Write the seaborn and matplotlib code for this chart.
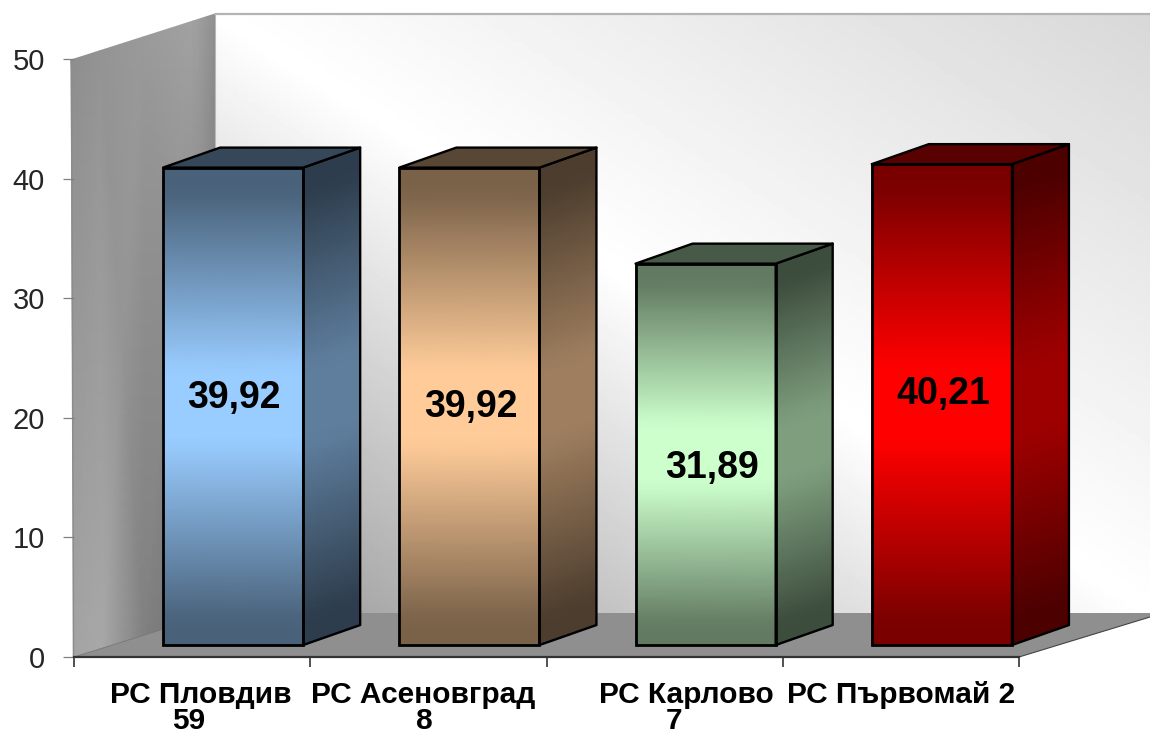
import numpy as np
import pandas as pd
import matplotlib
matplotlib.use("Agg")
import matplotlib.pyplot as plt
from matplotlib.colors import LinearSegmentedColormap, to_rgb
from matplotlib.patches import Polygon
import seaborn as sns

categories = ["РС Пловдив", "РС Асеновград", "РС Карлово", "РС Първомай 2"]
second_lines = ["59", "8", "7"]
values = [39.92, 39.92, 31.89, 40.21]
yticks = [0, 10, 20, 30, 40, 50]

# styling
colors = ["#99ccff", "#ffcc99", "#ccffcc", "#ff0000"]
label_centers = [0.035, 0.976, 2.094, 3.0]
second_line_centers = [-0.013, 0.981, 2.04]
value_label_y = [21.63, 20.9, 15.8, 21.99]
value_label_dx = [1, 1, 6, 1]
W, H = 1150, 733
AX_L, AX_R, AX_T, AX_B = 74, 1019, 59, 657

sns.set_theme(style="white")
plt.rcParams["font.family"] = ["Liberation Sans", "DejaVu Sans"]

fig = plt.figure(figsize=(W / 100, H / 100), dpi=100, facecolor="white")

# ---- background walls, in pixel coordinates
bg = fig.add_axes([0, 0, 1, 1])
bg.set_xlim(0, W)
bg.set_ylim(H, 0)
bg.axis("off")

u, v = np.meshgrid(np.linspace(0, 1, 200), np.linspace(0, 1, 150))
d = u - v
g = np.where(d > 0, 1 - d * (255 - 0xd8) / 255, 1 + d * (255 - 0x98) / 255)
bg.imshow(g, cmap="gray", vmin=0, vmax=1, extent=[215, W, 613, 14], aspect="auto", zorder=1)
bg.set_xlim(0, W)
bg.set_ylim(H, 0)
bg.plot([215, W], [14, 14], color="#b4b4b4", lw=1.6, zorder=2)
bg.plot([215, 215], [14, 150], color="#b8b8b8", lw=0.8, zorder=2)

# left wall (sheared gradient)
s = np.array([0, 0.2, 0.5, 0.85, 1.0])
xl_top = 71 + s * (215 - 71)
yl_top = 60 + s * (14 - 60)
xl_bot = 74 + s * (215 - 74)
yl_bot = 657 + s * (613 - 657)
X = np.vstack([xl_top, xl_bot])
Y = np.vstack([yl_top, yl_bot])
C = np.array([[0x8e, 0x94, 0x9a, 0xa2, 0x90],
              [0xa4, 0xa8, 0x80, 0x72, 0x70]]) / 255
bg.pcolormesh(X, Y, C, cmap="gray", vmin=0, vmax=1, shading="gouraud", zorder=1)
bg.plot([71.5, 73.5], [60, 657], color="#8c8c8c", lw=1.1, zorder=2)

# floor
bg.add_patch(Polygon([(74, 657), (1019, 657), (W, 617), (W, 613), (215, 613)],
                     closed=True, facecolor="#8f8f8f", edgecolor="none", zorder=2))
bg.plot([1019, W], [657, 617], color="#444444", lw=0.8, zorder=3)
bg.plot([74, 215], [657, 613], color="#777777", lw=0.6, zorder=3)

# ---- data axes
ax = fig.add_axes([AX_L / W, 1 - AX_B / H, (AX_R - AX_L) / W, (AX_B - AX_T) / H])
ax.patch.set_alpha(0)
df = pd.DataFrame({"pos": np.arange(len(categories)), "cat": categories, "val": values})
sns.barplot(data=df, x="pos", y="val", hue="cat", palette=colors, dodge=False, native_scale=True,
            legend=False, width=0.593, saturation=1, bottom=1.0, ax=ax)
ax.set_xlim(-0.5, 3.5)
ax.set_ylim(0, 50)
ax.set_xlabel("")
ax.set_ylabel("")

dx_unit = (AX_R - AX_L) / 4
dy_unit = (AX_B - AX_T) / 50
depth_x = 57 / dx_unit
depth_y = 20 / dy_unit
shift = 41 / dx_unit

frac = np.linspace(0, 1, 33)
profile = np.clip(((1 - np.abs(2 * frac - 1)) - 0.1) / 0.75, 0, 1)


def scale(col, k):
    return tuple(np.array(to_rgb(col)) * k)


bars = sorted(ax.patches, key=lambda p: p.get_x())
for patch, col, val, ly, ldx in zip(bars, colors, values, value_label_y, value_label_dx):
    patch.set_x(patch.get_x() + shift)
    x0, x1 = patch.get_x(), patch.get_x() + patch.get_width()
    y0, y1 = patch.get_y(), patch.get_y() + patch.get_height()
    levels = y0 + frac * (y1 - y0)
    shade = np.column_stack([profile, profile])
    # front face
    cm_front = LinearSegmentedColormap.from_list("f", [scale(col, 0.48), col])
    FX, FY = np.meshgrid([x0, x1], levels)
    ax.pcolormesh(FX, FY, shade, cmap=cm_front, vmin=0, vmax=1,
                  shading="gouraud", zorder=3, clip_on=False)
    # side face
    cm_side = LinearSegmentedColormap.from_list("s", [scale(col, 0.3), scale(col, 0.62)])
    SX = np.tile([x1, x1 + depth_x], (len(levels), 1))
    SY = np.column_stack([levels, levels + depth_y])
    ax.pcolormesh(SX, SY, shade, cmap=cm_side, vmin=0, vmax=1,
                  shading="gouraud", zorder=3, clip_on=False)
    ax.add_patch(Polygon([(x1, y0), (x1 + depth_x, y0 + depth_y), (x1 + depth_x, y1 + depth_y), (x1, y1)],
                         closed=True, facecolor="none", edgecolor="black", lw=1.7, zorder=4,
                         clip_on=False, joinstyle="round"))
    # top face
    ax.add_patch(Polygon([(x0, y1), (x0 + depth_x, y1 + depth_y), (x1 + depth_x, y1 + depth_y), (x1, y1)],
                         closed=True, facecolor=scale(col, 0.35), edgecolor="black", lw=1.7,
                         zorder=4, clip_on=False, joinstyle="round"))
    patch.set_facecolor("none")
    patch.set_edgecolor("black")
    patch.set_linewidth(2.0)
    patch.set_zorder(5)
    patch.set_clip_on(False)
    ax.text((x0 + x1) / 2 + ldx / dx_unit, ly, f"{val:.2f}".replace(".", ","), ha="center", va="center",
            fontsize=27, fontweight="bold", color="black", zorder=6)

# ---- axes furniture
sns.despine(ax=ax, left=True, top=True, right=True, bottom=False)
ax.spines["bottom"].set_color("#333333")
ax.spines["bottom"].set_linewidth(1.6)
ax.set_yticks(yticks)
ax.tick_params(axis="y", left=True, length=8, width=0.9, color="#808080", pad=13,
               labelsize=21, labelcolor="#262626")
ax.set_xticks(np.arange(-0.5, 4, 1))
ax.set_xticklabels([])
ax.tick_params(axis="x", which="major", bottom=True, length=7, width=1.2, color="#333333")
ax.set_xticks(label_centers, minor=True)
ax.set_xticklabels(categories, minor=True, fontsize=21.5, fontweight="bold", color="black")
ax.tick_params(axis="x", which="minor", bottom=False, length=0, pad=17)
for txt, cx in zip(second_lines, second_line_centers):
    ax.text(cx, -0.107, txt, transform=ax.get_xaxis_transform(), ha="center", va="center",
            fontsize=21.5, fontweight="bold", color="black")

fig.savefig("out.png", dpi=100)
